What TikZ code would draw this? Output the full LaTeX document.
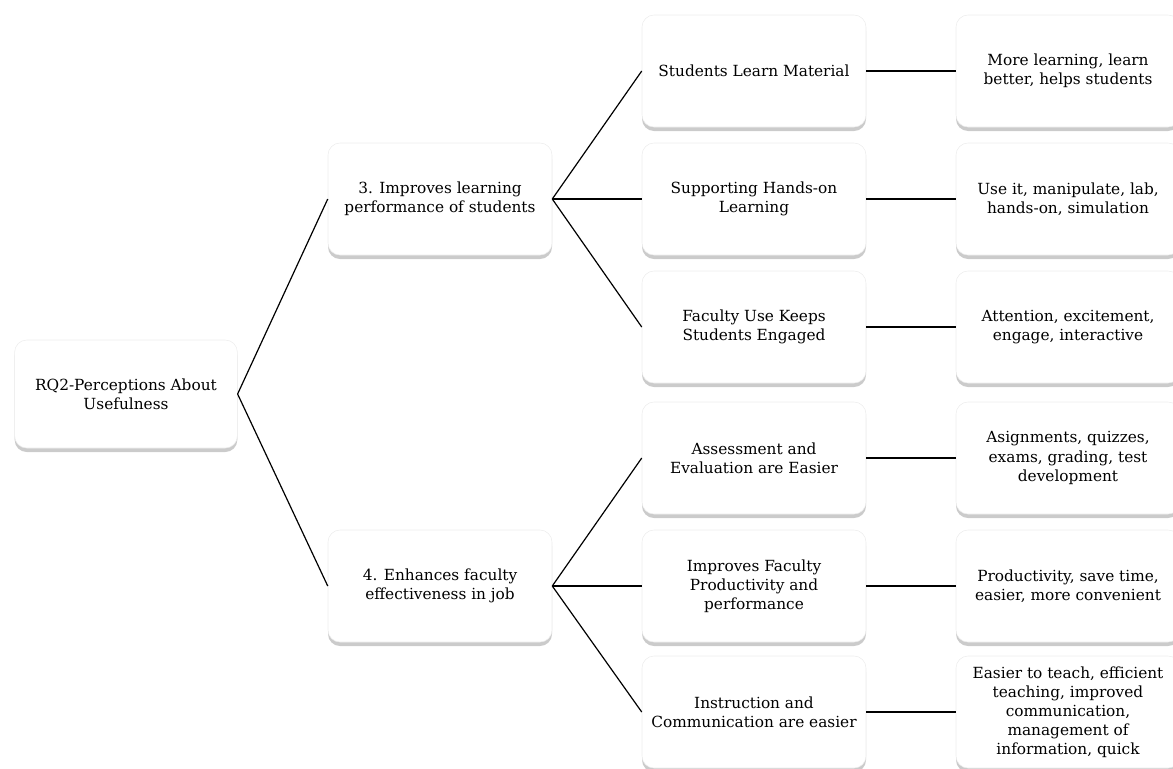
\documentclass[tikz,border=0pt]{standalone}
\usepackage{fontspec}
\setmainfont{DejaVu Serif}
\usetikzlibrary{shadows}
\tikzset{
  card/.style={rectangle, rounded corners=9pt, fill=white, draw=black!7,
    minimum width=168pt, minimum height=84pt, align=center, inner sep=2pt,
    font=\fontsize{11.5}{14.3}\selectfont,
    drop shadow={shadow xshift=0pt, shadow yshift=-3pt, fill=black!45, opacity=.45}},
  rootcard/.style={card, minimum width=167pt, minimum height=81pt},
  link/.style={draw, line width=0.9pt}
}
\def\fan#1#2{\draw[link] (#1.east) -- (#2.west);}

\begin{document}
\begin{tikzpicture}[x=0.75pt,y=-0.75pt]
  \useasboundingbox (0,0) rectangle (1173,768);
  % root and the two questions
  \node[rootcard] (rq) at (126,394) {RQ2-Perceptions About\\Usefulness};
  \node[card] (learn) at (440,199) {3. Improves learning\\performance of students};
  \node[card] (faculty) at (440,586) {4. Enhances faculty\\effectiveness in job};
  % themes
  \node[card] (material) at (754,71) {Students Learn Material};
  \node[card] (handson) at (754,199) {Supporting Hands-on\\Learning};
  \node[card] (engaged) at (754,327) {Faculty Use Keeps\\Students Engaged};
  \node[card] (assess) at (754,458) {Assessment and\\Evaluation are Easier};
  \node[card] (product) at (754,586) {Improves Faculty\\Productivity and\\performance};
  \node[card] (instruct) at (754,712) {Instruction and\\Communication are easier};
  % codes
  \node[card] (materialc) at (1068,71) {More learning, learn\\better, helps students};
  \node[card] (handsonc) at (1068,199) {Use it, manipulate, lab,\\hands-on, simulation};
  \node[card] (engagedc) at (1068,327) {Attention, excitement,\\engage, interactive};
  \node[card] (assessc) at (1068,458) {Asignments, quizzes,\\exams, grading, test\\development};
  \node[card] (productc) at (1068,586) {Productivity, save time,\\easier, more convenient};
  \node[card] (instructc) at (1068,712) {Easier to teach, efficient\\teaching, improved\\communication,\\management of\\information, quick};
  % connectors
  \fan{rq}{learn} \fan{rq}{faculty}
  \foreach \t in {material,handson,engaged} {\fan{learn}{\t}}
  \foreach \t in {assess,product,instruct} {\fan{faculty}{\t}}
  \foreach \t in {material,handson,engaged,assess,product,instruct} {\fan{\t}{\t c}}
\end{tikzpicture}
\end{document}
